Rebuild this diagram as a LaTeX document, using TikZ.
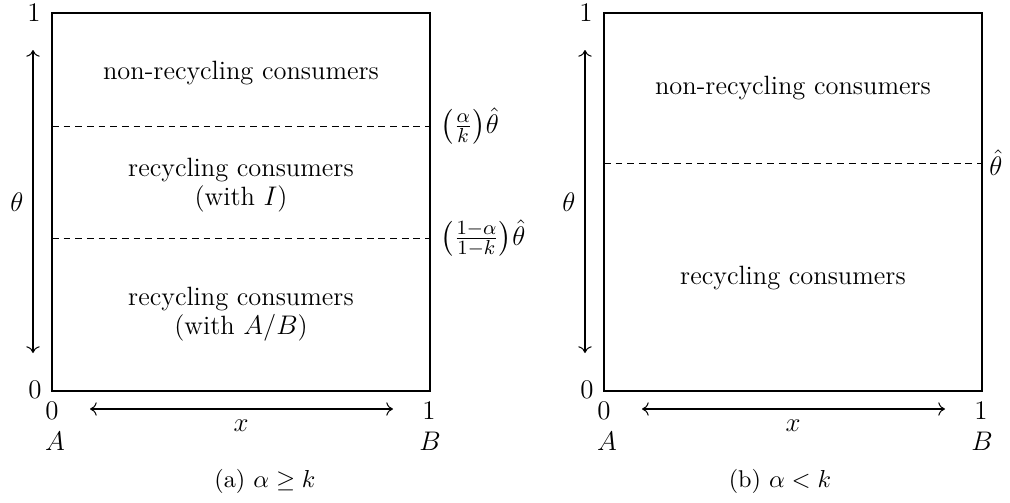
\documentclass[tikz,border=0pt]{standalone}
\usepackage{amsmath,amssymb}
\usetikzlibrary{arrows.meta}
\begin{document}
\begin{tikzpicture}[x=0.446pt,y=-0.446pt,
  boxline/.style={line width=0.45pt},
  divider/.style={line width=0.4pt, dash pattern=on 3pt off 2.2pt},
  axisarrow/.style={line width=0.45pt,
    {Computer Modern Rightarrow[length=3pt,width=6pt]}-{Computer Modern Rightarrow[length=3pt,width=6pt]}},
  axislabel/.style={font=\fontsize{13}{15}\selectfont, inner sep=0pt},
  regiontext/.style={align=center, font=\fontsize{11.8}{13}\selectfont, inner sep=0pt},
  captiontext/.style={font=\fontsize{10.8}{13}\selectfont, inner sep=0pt},
  thresh/.style={anchor=west, inner sep=0pt, font=\fontsize{13}{15}\selectfont}]
\useasboundingbox (0,0) rectangle (1010,503);

% ---------- panel (a) ----------
\coordinate (aTL) at (52,13);
\coordinate (aBR) at (430,391);
\draw[boxline] (aTL) rectangle (aBR);
\coordinate (aD1l) at (52,126);
\coordinate (aD1r) at (430,126);
\coordinate (aD2l) at (52,238);
\coordinate (aD2r) at (430,238);
\draw[divider] (aD1l) -- (aD1r);
\draw[divider] (aD2l) -- (aD2r);
\node[thresh] (aT1) at (440,126) {$\bigl(\frac{\alpha}{k}\bigr)\hat{\theta}$};
\node[thresh] (aT2) at (440,238) {$\bigl(\frac{1-\alpha}{1-k}\bigr)\hat{\theta}$};
\node[regiontext] (aR1) at (241,73) {non-recycling consumers};
\node[regiontext] (aR2) at (241,185) {recycling consumers\\(with $I$)};
\node[regiontext] (aR3) at (241,314) {recycling consumers\\(with $A/B$)};
\coordinate (aUp) at (33,50);
\coordinate (aDown) at (33,353);
\draw[axisarrow] (aDown) -- (aUp);
\node[axislabel] (aTheta) at (17,202) {$\theta$};
\node[axislabel] (aY1) at (34,13) {$1$};
\node[axislabel] (aY0) at (35,390) {$0$};
\node[axislabel] (aX0) at (52,411) {$0$};
\node[axislabel] (aX1) at (429,411) {$1$};
\node[axislabel] (aA) at (55,441) {$A$};
\node[axislabel] (aB) at (430,441) {$B$};
\coordinate (aLeft) at (90,409);
\coordinate (aRight) at (393,409);
\draw[axisarrow] (aLeft) -- (aRight);
\node[axislabel] (aX) at (241,426) {$x$};
\node[captiontext] (aCap) at (265,481) {(a) $\alpha\geq k$};

% ---------- panel (b) ----------
\coordinate (bTL) at (604,13);
\coordinate (bBR) at (982,391);
\draw[boxline] (bTL) rectangle (bBR);
\coordinate (bD1l) at (604,163);
\coordinate (bD1r) at (982,163);
\draw[divider] (bD1l) -- (bD1r);
\node[thresh] (bT1) at (989,163) {$\hat{\theta}$};
\node[regiontext] (bR1) at (793,88) {non-recycling consumers};
\node[regiontext] (bR2) at (793,278) {recycling consumers};
\coordinate (bUp) at (585,50);
\coordinate (bDown) at (585,353);
\draw[axisarrow] (bDown) -- (bUp);
\node[axislabel] (bTheta) at (569,202) {$\theta$};
\node[axislabel] (bY1) at (586,13) {$1$};
\node[axislabel] (bY0) at (587,390) {$0$};
\node[axislabel] (bX0) at (604,411) {$0$};
\node[axislabel] (bX1) at (981,411) {$1$};
\node[axislabel] (bA) at (607,441) {$A$};
\node[axislabel] (bB) at (982,441) {$B$};
\coordinate (bLeft) at (642,409);
\coordinate (bRight) at (945,409);
\draw[axisarrow] (bLeft) -- (bRight);
\node[axislabel] (bX) at (793,426) {$x$};
\node[captiontext] (bCap) at (780,481) {(b) $\alpha<k$};
\end{tikzpicture}
\end{document}
